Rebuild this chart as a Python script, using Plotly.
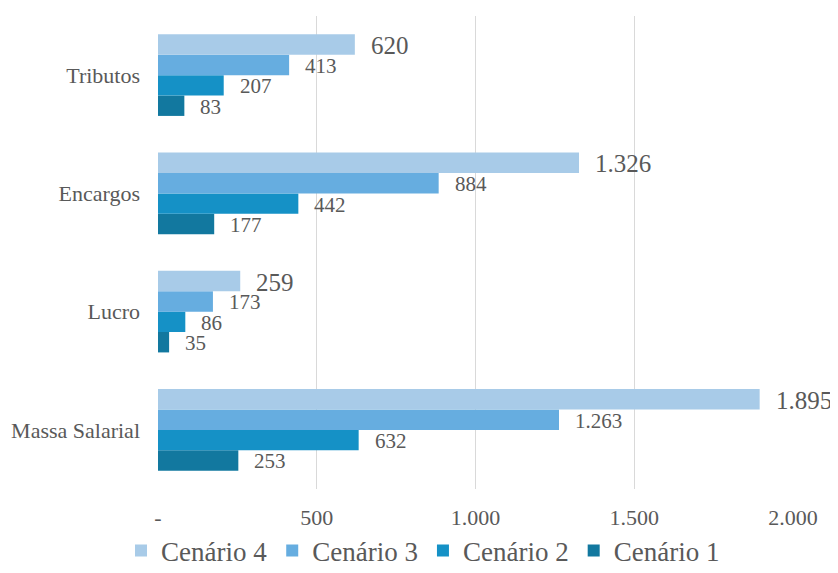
import plotly.graph_objects as go

categories = ["Massa Salarial", "Lucro", "Encargos", "Tributos"]
series_names = ["Cenário 1", "Cenário 2", "Cenário 3", "Cenário 4"]
cenario1 = [253, 35, 177, 83]
cenario2 = [632, 86, 442, 207]
cenario3 = [1263, 173, 884, 413]
cenario4 = [1895, 259, 1326, 620]
series_values = [cenario1, cenario2, cenario3, cenario4]
colors = ["#12789f", "#1591c6", "#66ade0", "#a8cbe8"]
x_tickvals = [0, 500, 1000, 1500, 2000]
x_ticktext = ["-", "500", "1.000", "1.500", "2.000"]

FONT = "'Liberation Serif', 'Times New Roman', serif"
GREY = "#595959"
BARGAP = 0.31

def fmt(v):
    return f"{v:,}".replace(",", ".")

fig = go.Figure()
ypos = list(range(len(categories)))
for name, vals, col in zip(series_names, series_values, colors):
    fig.add_trace(go.Bar(
        y=ypos, x=vals, name=name, orientation="h",
        marker=dict(color=col, line=dict(width=0)),
        hoverinfo="x+name",
    ))

slot = (1 - BARGAP) / len(series_names)
annotations = []
for k, (vals, name) in enumerate(zip(series_values, series_names)):
    size = 25 if k == len(series_names) - 1 else 21
    for i, v in enumerate(vals):
        annotations.append(dict(
            x=v, y=i + (k - (len(series_names) - 1) / 2) * slot,
            xref="x", yref="y", text=fmt(v), showarrow=False,
            xanchor="left", yanchor="middle", xshift=14, yshift=-1,
            font=dict(family=FONT, size=size, color=GREY),
        ))

fig.update_layout(
    width=830, height=565,
    margin=dict(l=150, r=45, t=8, b=84, autoexpand=False),
    barmode="group", bargap=BARGAP, bargroupgap=0,
    plot_bgcolor="white", paper_bgcolor="white",
    font=dict(family=FONT, size=22, color=GREY),
    annotations=annotations,
    legend=dict(
        orientation="h", traceorder="reversed",
        xref="container", yref="container",
        x=0.5, xanchor="center", y=0.039, yanchor="middle",
        font=dict(family=FONT, size=27, color=GREY),
        itemwidth=30, bgcolor="rgba(0,0,0,0)",
    ),
    xaxis=dict(
        range=[0, 2000], tickvals=x_tickvals, ticktext=x_ticktext,
        showgrid=True, gridcolor="#d9d9d9", gridwidth=1,
        zeroline=False, showline=False, ticks="",
        ticklabelstandoff=13, automargin=False,
        tickfont=dict(family=FONT, size=22, color=GREY),
    ),
    yaxis=dict(
        range=[-0.5, len(categories) - 0.5],
        tickvals=ypos, ticktext=categories,
        showgrid=False, zeroline=False, showline=False, ticks="",
        ticklabelstandoff=17, automargin=False,
        tickfont=dict(family=FONT, size=22, color=GREY),
    ),
)
fig.update_traces(cliponaxis=False)

fig.write_html("out.html")
